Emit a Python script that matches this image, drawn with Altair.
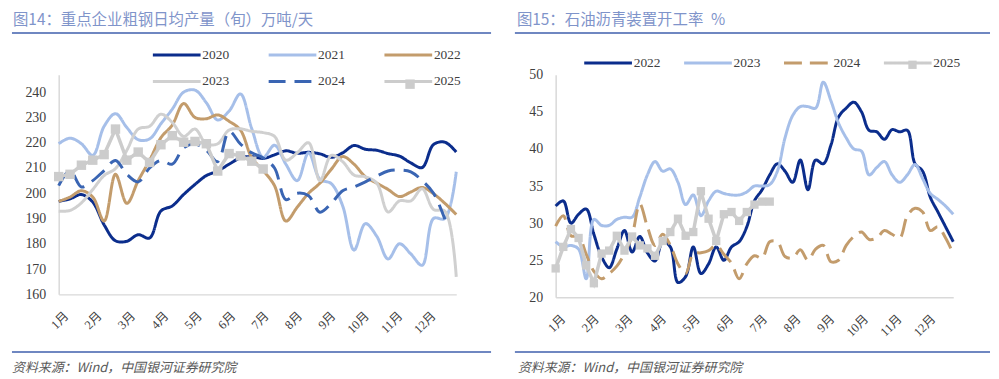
import altair as alt
import pandas as pd

# ---------------- text ----------------
left_title = "图14：重点企业粗钢日均产量（旬）万吨/天"
right_title = "图15：石油沥青装置开工率\u2002%"
source_note = "资料来源：Wind，中国银河证券研究院"

# ---------------- left panel: crude steel daily output by dekad (36 per year) ----------------
steel_years = ["2020", "2021", "2022", "2023", "2024", "2025"]
steel_2020 = [196.8, 197.8, 199.5, 196.5, 187.5, 181.2, 181.0, 183.6, 182.3, 193.0, 195.0, 199.5,
              203.5, 207.0, 208.8, 211.5, 214.0, 214.5, 213.8, 215.2, 216.8, 215.8, 216.2, 215.6,
              214.2, 216.0, 218.9, 217.4, 217.0, 215.7, 214.7, 212.0, 210.2, 219.3, 220.2, 216.3]
steel_2021 = [219.6, 221.8, 219.6, 215.0, 226.5, 231.5, 226.0, 221.2, 221.5, 227.5, 233.3, 240.0,
              240.8, 235.8, 229.0, 232.5, 239.3, 225.5, 214.2, 219.0, 211.5, 205.0, 216.0, 205.5,
              203.8, 195.0, 177.5, 188.0, 183.0, 174.0, 180.0, 176.0, 171.5, 190.0, 190.0, 208.5]
steel_2022 = [196.8, 198.5, 201.0, 198.5, 189.0, 207.5, 196.0, 205.0, 213.0, 222.0, 227.0, 235.5,
              230.0, 229.5, 231.0, 228.5, 225.0, 214.0, 209.0, 203.0, 189.0, 194.5, 200.0, 204.0,
              209.5, 214.5, 211.5, 206.5, 204.0, 201.5, 198.7, 200.5, 202.3, 199.8, 196.0, 191.6]
steel_2023 = [192.9, 193.2, 196.2, 201.5, 207.0, 209.8, 217.0, 225.4, 226.5, 231.3, 228.0, 222.5,
              225.4, 219.5, 219.6, 225.0, 225.5, 224.5, 224.0, 222.5, 213.1, 216.0, 220.0, 205.0,
              215.0, 212.5, 207.2, 206.5, 204.0, 192.6, 197.0, 197.0, 201.8, 193.6, 192.9, 166.9]
steel_2024 = [203.0, 209.0, 202.5, 205.0, 209.0, 213.0, 207.5, 204.5, 210.0, 213.0, 211.5, 218.0,
              219.5, 217.0, 212.5, 224.5, 219.5, 216.0, 214.0, 210.0, 197.5, 200.0, 199.0, 192.5,
              196.0, 201.0, 202.5, 204.5, 206.8, 208.8, 209.2, 208.5, 205.0, 200.0, 189.7]
steel_2025 = [206.6, 207.5, 211.1, 213.1, 215.3, 225.4, 213.1, 216.3, 212.2, 219.2, 222.8, 220.2,
              220.5, 219.6, 208.8, 215.7, 214.8, 212.7, 209.6]
steel_y_ticks = [160, 170, 180, 190, 200, 210, 220, 230, 240]

# ---------------- right panel: asphalt plant operating rate, weekly (53 per year) ----------------
asphalt_years = ["2022", "2023", "2024", "2025"]
asphalt_2022 = [32.3, 33.0, 30.0, 31.2, 31.9, 28.5, 25.5, 24.0, 26.5, 29.0, 26.1, 28.2, 26.0,
                24.9, 27.5, 26.8, 22.0, 22.8, 26.8, 23.2, 24.5, 26.8, 25.0, 26.8, 27.5, 29.5,
                33.0, 34.5, 36.5, 38.0, 37.0, 35.5, 38.5, 34.5, 38.5, 38.0, 40.5, 44.3, 45.5,
                46.3, 45.0, 42.5, 42.3, 41.3, 42.6, 42.3, 42.5, 38.0, 37.0, 33.5, 31.5, 29.5, 27.5]
asphalt_2023 = [27.5, 26.8, 27.0, 26.5, 22.5, 30.5, 29.7, 29.7, 30.5, 30.8, 30.8, 33.5, 36.5,
                38.3, 37.0, 37.3, 35.5, 32.5, 33.8, 31.0, 33.0, 34.3, 34.0, 33.8, 33.8, 34.2,
                35.0, 35.0, 35.2, 37.0, 41.5, 44.5, 45.7, 45.7, 45.5, 49.0, 46.5, 43.5, 41.5,
                40.0, 39.7, 36.5, 37.5, 38.3, 36.5, 35.5, 36.5, 37.9, 36.0, 34.0, 33.2, 32.3, 31.2]
asphalt_2024 = [29.6, 31.0, 28.3, 28.2, 25.8, 23.5, 22.5, 23.2, 24.2, 25.9, 28.3, 32.6, 29.5,
                27.0, 28.5, 27.0, 24.5, 23.2, 25.9, 26.0, 26.3, 27.0, 25.8, 24.6, 22.5, 24.5,
                25.6, 25.3, 27.5, 27.5, 25.5, 25.3, 26.4, 25.0, 26.5, 27.0, 24.8, 25.0, 27.0,
                28.2, 28.8, 27.8, 28.0, 29.0, 28.5, 28.0, 31.0, 32.0, 31.5, 29.0, 29.5, 28.0, 25.9]
asphalt_2025 = [23.9, 26.8, 29.2, 28.0, 24.3, 21.9, 25.9, 26.3, 28.3, 26.3, 28.2, 27.0, 26.6,
                25.6, 27.6, 28.8, 30.6, 28.3, 28.8, 34.3, 30.6, 27.6, 31.2, 31.5, 30.3, 31.5,
                32.5, 32.9, 32.9]
asphalt_y_ticks = [20, 25, 30, 35, 40, 45, 50]

# ---------------- styles ----------------
SERIF = "Liberation Serif, Noto Sans CJK SC"
CJK = "Noto Sans CJK SC"
AXIS_COLOR = "#D9D9D9"
RULE_COLOR = "#6F87C1"
TITLE_COLOR = "#7F94CA"
LABEL_COLOR = "#404040"
NAVY = "#0B2D8C"
LIGHT_BLUE = "#A6BFE9"
TAN = "#C39C6C"
LIGHT_GRAY = "#D0D0D0"
MID_BLUE = "#3A65B3"
MARK_GRAY = "#CCCCCC"


def long_table(years, series):
    rows = []
    for yr, vals in zip(years, series):
        for i, v in enumerate(vals):
            rows.append({"idx": i, "value": v, "year": yr})
    return pd.DataFrame(rows)


def panel(df, years, colors, dashes, marker_year, x_max, month_step, y_domain, y_ticks,
          height, leg_x, leg_y, leg_cols, col_pad, row_pad, mk_x, mk_y, mk_size,
          title, title_x, rule_x1, rule_x2, footer_x):
    xs = alt.X("idx:Q", scale=alt.Scale(domain=[0, x_max], nice=False, zero=False),
               axis=alt.Axis(values=[month_step * k for k in range(12)],
                             labelExpr=f"round(datum.value / {month_step}) + 1 + '月'",
                             title=None, ticks=False, grid=False, domainColor=AXIS_COLOR,
                             domainWidth=1.5, labelAngle=-45, labelAlign="right",
                             labelBaseline="top", labelFont=SERIF, labelFontSize=12.5,
                             labelColor=LABEL_COLOR, labelPadding=15, labelOffset=3))
    ys = alt.Y("value:Q", scale=alt.Scale(domain=y_domain, nice=False, zero=False),
               axis=alt.Axis(values=y_ticks, title=None, ticks=False, grid=False,
                             domainColor=AXIS_COLOR, domainWidth=1.5, labelFont=SERIF,
                             labelFontSize=14, labelColor=LABEL_COLOR, labelPadding=13))
    legend = alt.Legend(orient="none", legendX=leg_x, legendY=leg_y, direction="horizontal",
                        columns=leg_cols, title=None, symbolType="M-6,0H6", symbolSize=64,
                        symbolStrokeWidth=3, labelFont=SERIF, labelFontSize=13.5,
                        labelColor=LABEL_COLOR, labelOffset=19, columnPadding=col_pad,
                        rowPadding=row_pad, padding=0)
    color = alt.Color("year:N", scale=alt.Scale(domain=years, range=colors), legend=legend)
    dash = alt.StrokeDash("year:N", scale=alt.Scale(domain=years, range=dashes), legend=legend)

    base = alt.Chart(df)
    smooth = base.transform_filter(alt.datum.year != marker_year).mark_line(
        interpolate="catmull-rom", strokeWidth=3).encode(x=xs, y=ys, color=color, strokeDash=dash)
    straight = base.transform_filter(alt.datum.year == marker_year).mark_line(
        strokeWidth=3.5).encode(x=xs, y=ys, color=color, strokeDash=dash)
    points = base.transform_filter(alt.datum.year == marker_year).transform_calculate(
        marker="datum.year").mark_point(shape="square", filled=True, size=mk_size,
                                        color=MARK_GRAY, opacity=1).encode(
        x=xs, y=ys,
        shape=alt.Shape("marker:N", scale=alt.Scale(domain=[marker_year], range=["square"]),
                        legend=alt.Legend(orient="none", legendX=mk_x, legendY=mk_y, title=None,
                                          symbolSize=mk_size, symbolFillColor=MARK_GRAY,
                                          symbolStrokeColor=MARK_GRAY, symbolStrokeWidth=0,
                                          labelOpacity=0, labelFontSize=1, labelOffset=0,
                                          padding=0)))

    one = pd.DataFrame({"t": [title]})
    title_txt = alt.Chart(one).mark_text(align="left", baseline="middle", font=CJK, fontSize=15.5,
                                         color=TITLE_COLOR).encode(
        text="t:N", x=alt.value(title_x), y=alt.value(-55))
    title_rule = alt.Chart(one).mark_rule(color=RULE_COLOR, strokeWidth=2).encode(
        x=alt.value(rule_x1), x2=alt.value(rule_x2), y=alt.value(-42))
    foot_rule = alt.Chart(one).mark_rule(color=RULE_COLOR, strokeWidth=2).encode(
        x=alt.value(rule_x1), x2=alt.value(rule_x2), y=alt.value(279))
    foot = pd.DataFrame({"t": [source_note]})
    foot_txt = alt.Chart(foot).mark_text(align="left", baseline="middle", font=CJK, fontSize=13,
                                         fontStyle="italic", color="#595959").encode(
        text="t:N", x=alt.value(footer_x), y=alt.value(295))

    return alt.layer(smooth, straight, points, title_txt, title_rule, foot_rule, foot_txt).properties(
        width=400, height=height)


steel_df = long_table(steel_years, [steel_2020, steel_2021, steel_2022, steel_2023, steel_2024, steel_2025])
asphalt_df = long_table(asphalt_years, [asphalt_2022, asphalt_2023, asphalt_2024, asphalt_2025])

left = panel(steel_df, steel_years,
             [NAVY, LIGHT_BLUE, TAN, LIGHT_GRAY, MID_BLUE, MARK_GRAY],
             [[1, 0], [1, 0], [1, 0], [1, 0], [17, 9], [1, 0]],
             "2025", 35, 2.94, [160, 246.9], steel_y_ticks, 221,
             112, -27, 3, 32.5, 12, 348.5, 4.5, 90,
             left_title, -46, -47, 435, -47)

right = panel(asphalt_df, asphalt_years,
              [NAVY, LIGHT_BLUE, TAN, MARK_GRAY],
              [[1, 0], [1, 0], [18, 8], [1, 0]],
              "2025", 52, 4.4, [20, 50], asphalt_y_ticks, 224,
              46, -19, 4, 16.5, 12, 354.5, -14.5, 70,
              right_title, -39, -41, 437, -38)

chart = alt.hconcat(left, right, spacing=22).resolve_scale(
    color="independent", strokeDash="independent", shape="independent"
).resolve_legend(
    color="independent", strokeDash="independent", shape="independent"
).properties(
    padding={"left": 3, "top": 4, "right": 0, "bottom": 0}
).configure_view(stroke=None)

chart.save("out.html", embed_options={"renderer": "svg", "actions": False})
